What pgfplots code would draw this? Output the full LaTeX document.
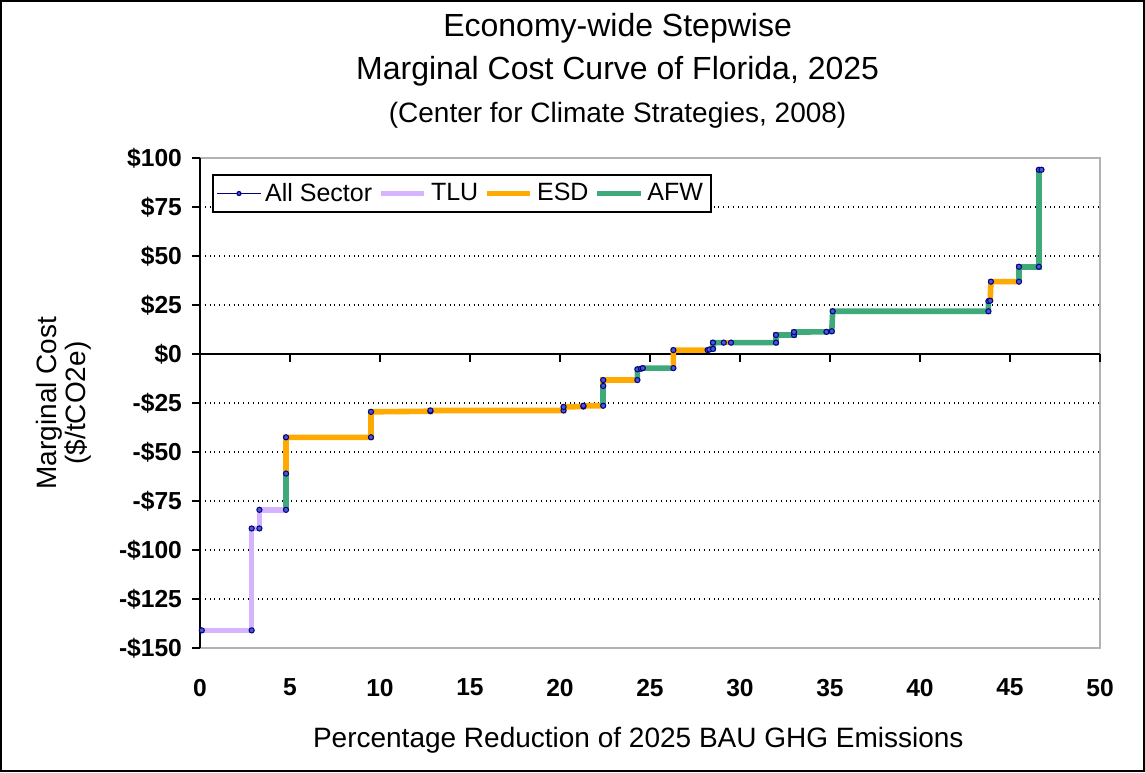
\documentclass[border=0pt]{standalone}
\usepackage{fontspec}
\setmainfont{Liberation Sans}
\usepackage{pgfplots}
\pgfplotsset{compat=1.18}

\definecolor{tlu}{HTML}{D6B3FF}
\definecolor{esd}{HTML}{FFAA00}
\definecolor{afw}{HTML}{3FA97A}
\definecolor{allsec}{HTML}{000080}
\definecolor{markfill}{HTML}{4A58D0}

\begin{document}
\begin{tikzpicture}
\useasboundingbox (-100pt,-62pt) rectangle (472.5pt,324pt);
\draw[black, line width=1.2pt] (-99.4pt,-61.4pt) rectangle (471.9pt,323.4pt);
\begin{axis}[
    at={(0,0)}, anchor=south west,
    scale only axis,
    width=450pt, height=245pt,
    xmin=0, xmax=50, ymin=-150, ymax=100,
    axis x line*=middle, axis y line*=left,
    hide obscured x ticks=false, hide obscured y ticks=false,
    axis background/.style={draw=gray!60, line width=1.2pt},
    axis line style={black, line width=1pt},
    xtick={0,5,...,50},
    xticklabels={0,5,10,15,20,25,30,35,40,45,50},
    ytick={-150,-125,...,100},
    yticklabels={-\$150,-\$125,-\$100,-\$75,-\$50,-\$25,\$0,\$25,\$50,\$75,\$100},
    xtick align=outside, ytick align=outside,
    major tick length=4pt,
    tick style={black, line width=0.8pt},
    ticklabel style={font=\fontsize{12.3}{14}\selectfont\bfseries},
    xticklabel style={yshift=-155pt},
    yticklabel style={xshift=-1.5pt},
    extra y ticks={-125,-100,-75,-50,-25,25,50,75},
    extra y tick labels={},
    extra y tick style={grid=major, major tick length=0pt,
        major grid style={black, dotted, line width=0.6pt}},
    title={Economy-wide Stepwise\\Marginal Cost Curve of Florida, 2025\\{\fontsize{14}{16}\selectfont (Center for Climate Strategies, 2008)}},
    title style={at={(0.464,1.285)}, anchor=north, align=center,
        font=\fontsize{16}{21.5}\selectfont},
    xlabel={Percentage Reduction of 2025 BAU GHG Emissions},
    xlabel style={at={(0.487,-0.188)}, anchor=center,
        font=\fontsize{14}{16}\selectfont},
    ylabel={Marginal Cost\\(\$/tCO2e)},
    ylabel style={at={(-0.151,0.5)}, anchor=center, align=center,
        font=\fontsize{14}{14.5}\selectfont},
    legend style={at={(0.0133,0.967)}, anchor=north west,
        draw=black, line width=0.8pt, fill=white,
        font=\fontsize{12.5}{14}\selectfont,
        inner sep=2pt,
        /tikz/every even column/.append style={column sep=1pt}},
    legend columns=-1,
    legend image code/.code={\draw[mark repeat=2, mark phase=2, #1]
        plot coordinates {(0cm,0cm) (0.38cm,0cm) (0.76cm,0cm)};},
]
\addlegendimage{allsec, line width=0.6pt, mark=*, mark size=1pt,
    mark options={draw=allsec, fill=markfill}}
\addlegendimage{tlu, line width=2.8pt}
\addlegendimage{esd, line width=2.8pt}
\addlegendimage{afw, line width=2.8pt}
\legend{All Sector, TLU, ESD, AFW}

% All Sector path (thin line underneath)
\addplot[allsec, line width=0.6pt, forget plot] coordinates {
(0.1,-141) (2.87,-141) (2.87,-89) (3.3,-89) (3.3,-79.5) (4.78,-79.5)
(4.78,-61) (4.78,-42.5) (9.5,-42.5) (9.5,-29.5) (12.8,-29.2) (12.8,-28.8)
(20.2,-28.8) (20.2,-27) (21.3,-26.8) (21.3,-26.4) (22.4,-26.4) (22.4,-16.3)
(22.4,-13.3) (24.3,-13.3) (24.3,-7.8) (24.5,-7.5) (24.6,-7.2) (26.3,-7.2)
(26.3,2.0) (28.2,2.0) (28.3,2.3) (28.5,2.6) (28.5,5.8) (29.1,5.8) (29.5,5.8)
(32.0,5.8) (32.0,9.7) (33.0,9.7) (33.0,11.2) (34.8,11.3) (35.1,11.6)
(35.15,21.8) (43.8,21.8) (43.8,27.0) (43.9,27.2) (43.94,36.9) (45.5,36.9)
(45.5,44.5) (46.6,44.5) (46.6,94) (46.75,94)
};

% TLU
\addplot[tlu, line width=2.8pt, forget plot] coordinates {
(0.1,-141) (2.87,-141) (2.87,-89) (3.3,-89) (3.3,-79.5) (4.78,-79.5)
};
% AFW
\addplot[afw, line width=2.8pt, forget plot] coordinates {
(4.78,-79.5) (4.78,-61)
};
% ESD
\addplot[esd, line width=2.8pt, forget plot] coordinates {
(4.78,-61) (4.78,-42.5) (9.5,-42.5) (9.5,-29.5) (12.8,-29.2) (12.8,-28.8)
(20.2,-28.8) (20.2,-27) (21.3,-26.8) (21.3,-26.4) (22.4,-26.4)
};
% AFW
\addplot[afw, line width=2.8pt, forget plot] coordinates {
(22.4,-26.4) (22.4,-16.3)
};
% ESD
\addplot[esd, line width=2.8pt, forget plot] coordinates {
(22.4,-16.3) (22.4,-13.3) (24.3,-13.3)
};
% AFW
\addplot[afw, line width=2.8pt, forget plot] coordinates {
(24.3,-13.3) (24.3,-7.8) (24.5,-7.5) (24.6,-7.2) (26.3,-7.2)
};
% ESD
\addplot[esd, line width=2.8pt, forget plot] coordinates {
(26.3,-7.2) (26.3,2.0) (28.2,2.0) (28.3,2.3)
};
% AFW
\addplot[afw, line width=2.8pt, forget plot] coordinates {
(28.3,2.3) (28.5,2.6) (28.5,5.8) (29.1,5.8)
};
% ESD
\addplot[esd, line width=2.8pt, forget plot] coordinates {
(29.1,5.8) (29.5,5.8)
};
% AFW
\addplot[afw, line width=2.8pt, forget plot] coordinates {
(29.5,5.8) (32.0,5.8) (32.0,9.7) (33.0,9.7) (33.0,11.2) (34.8,11.3)
(35.1,11.6) (35.15,21.8) (43.8,21.8) (43.8,27.0)
};
% ESD
\addplot[esd, line width=2.8pt, forget plot] coordinates {
(43.8,27.0) (43.9,27.2) (43.94,36.9) (45.5,36.9)
};
% AFW
\addplot[afw, line width=2.8pt, forget plot] coordinates {
(45.5,36.9) (45.5,44.5) (46.6,44.5) (46.6,94)
};

% All Sector markers on top
\addplot[only marks, mark=*, mark size=1.3pt,
    mark options={draw=allsec, fill=markfill, line width=0.5pt}, forget plot]
coordinates {
(0.1,-141) (2.87,-141) (2.87,-89) (3.3,-89) (3.3,-79.5) (4.78,-79.5)
(4.78,-61) (4.78,-42.5) (9.5,-42.5) (9.5,-29.5) (12.8,-29.2) (12.8,-28.8)
(20.2,-28.8) (20.2,-27) (21.3,-26.8) (21.3,-26.4) (22.4,-26.4) (22.4,-16.3)
(22.4,-13.3) (24.3,-13.3) (24.3,-7.8) (24.5,-7.5) (24.6,-7.2) (26.3,-7.2)
(26.3,2.0) (28.2,2.0) (28.3,2.3) (28.5,2.6) (28.5,5.8) (29.1,5.8) (29.5,5.8)
(32.0,5.8) (32.0,9.7) (33.0,9.7) (33.0,11.2) (34.8,11.3) (35.1,11.6)
(35.15,21.8) (43.8,21.8) (43.8,27.0) (43.9,27.2) (43.94,36.9) (45.5,36.9)
(45.5,44.5) (46.6,44.5) (46.6,94) (46.75,94)
};
\end{axis}
\end{tikzpicture}
\end{document}
